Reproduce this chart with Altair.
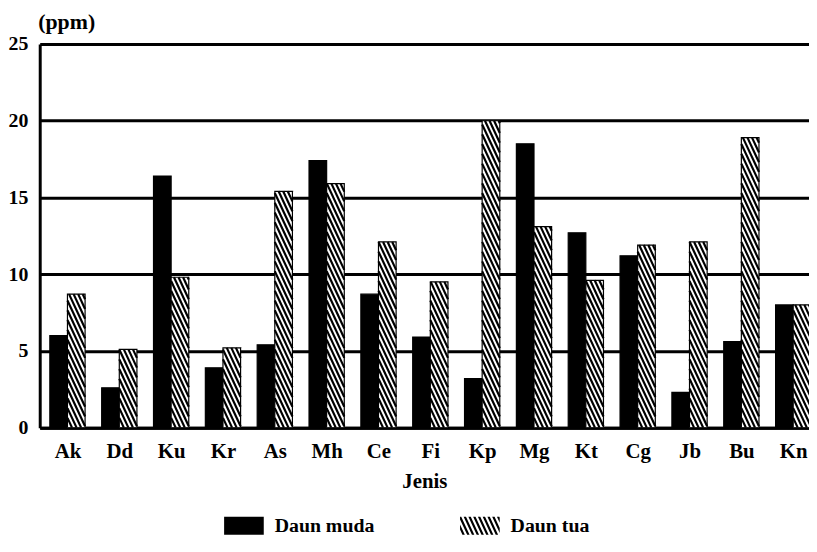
import math
import altair as alt
import pandas as pd

# ---- data ----
categories = ["Ak", "Dd", "Ku", "Kr", "As", "Mh", "Ce", "Fi", "Kp", "Mg", "Kt", "Cg", "Jb", "Bu", "Kn"]
daun_muda = [6.0, 2.6, 16.4, 3.9, 5.4, 17.4, 8.7, 5.9, 3.2, 18.5, 12.7, 11.2, 2.3, 5.6, 8.0]
daun_tua = [8.7, 5.1, 9.8, 5.2, 15.4, 15.9, 12.1, 9.5, 20.0, 13.1, 9.6, 11.9, 12.1, 18.9, 8.0]
series_names = ["Daun muda", "Daun tua"]
y_ticks = [0, 5, 10, 15, 20, 25]

rows = []
for i, c in enumerate(categories):
    rows.append({"idx": i, "jenis": c, "seri": series_names[0], "nilai": daun_muda[i]})
    rows.append({"idx": i, "jenis": c, "seri": series_names[1], "nilai": daun_tua[i]})
df = pd.DataFrame(rows)

# ---- styling / geometry ----
W, H = 776, 387
N = len(categories)
X_DOMAIN = [-0.035, 14.805]     # the original figure is cut at its right edge
BW = 0.34                       # bar width in category units
px_x, px_y = W / (X_DOMAIN[1] - X_DOMAIN[0]), H / 25.0
ANG = math.radians(65)
S = BW * px_x * math.tan(ANG) / px_y    # vertical drop of a hatch line across a bar (data units)
STEP = 4.6 * math.tan(ANG) / px_y       # vertical spacing of hatch lines (data units)

FONT = "Liberation Serif"

label_expr = "[" + ",".join("'%s'" % c for c in categories) + "][floor(datum.value)]"
x_scale = alt.Scale(domain=X_DOMAIN, nice=False, zero=False)
y_scale = alt.Scale(domain=[0, 25], nice=False)

x_axis = alt.Axis(values=[i + 0.5 for i in range(N)], labelExpr=label_expr, ticks=False, grid=False,
                  domainColor="black", domainWidth=3, labelFont=FONT, labelFontWeight="bold",
                  labelFontSize=21, labelColor="black", labelPadding=13, title="Jenis",
                  titleFont=FONT, titleFontWeight="bold", titleFontSize=21, titleColor="black",
                  titlePadding=9)
y_axis = alt.Axis(values=y_ticks, ticks=False, grid=True, gridColor="black", gridWidth=3,
                  gridOpacity=1, domainColor="black", domainWidth=3, labelFont=FONT,
                  labelFontWeight="bold", labelFontSize=20, labelColor="black", labelPadding=12,
                  title="(ppm)", titleAngle=0, titleAlign="left", titleBaseline="top",
                  titleX=-2, titleY=-33, titleFont=FONT, titleFontWeight="bold",
                  titleFontSize=22, titleColor="black")

base = alt.Chart(df).transform_calculate(
    x0="datum.idx + 0.5 + (datum.seri == '%s' ? -%f : 0)" % (series_names[0], BW),
    x1="datum.x0 + %f" % BW,
    zero="0",
    warna="datum.seri == '%s' ? 'black' : 'white'" % series_names[0],
)

bars = base.mark_bar(stroke="black", strokeWidth=1.2, clip=True).encode(
    x=alt.X("x0:Q", scale=x_scale, axis=x_axis),
    x2="x1:Q",
    y=alt.Y("nilai:Q", scale=y_scale, axis=y_axis),
    y2="zero:Q",
    fill=alt.Fill("warna:N", scale=None),
)

hatch = alt.Chart(df).transform_filter(
    "datum.seri == '%s'" % series_names[1]
).transform_calculate(
    k="sequence(1, ceil((datum.nilai + %f) / %f))" % (S, STEP)
).transform_flatten(["k"]).transform_calculate(
    c="datum.k * %f" % STEP,
    xl="datum.idx + 0.5",
).transform_calculate(
    xs="datum.xl + max(0, (datum.c - datum.nilai) / %f) * %f" % (S, BW),
    ys="min(datum.c, datum.nilai)",
    xe="datum.xl + min(1, datum.c / %f) * %f" % (S, BW),
    ye="max(datum.c - %f, 0)" % S,
).mark_rule(color="black", strokeWidth=2.2, strokeCap="butt", clip=True).encode(
    x=alt.X("xs:Q", scale=x_scale, axis=x_axis),
    x2="xe:Q",
    y=alt.Y("ys:Q", scale=y_scale, axis=y_axis),
    y2="ye:Q",
)

# ---- legend symbols as custom paths (unit = half of a 20px symbol box) ----
def clip_x(poly, lo, hi):
    def clip(poly, inside, inter):
        out = []
        for j in range(len(poly)):
            a, b = poly[j - 1], poly[j]
            if inside(b):
                if not inside(a):
                    out.append(inter(a, b))
                out.append(b)
            elif inside(a):
                out.append(inter(a, b))
        return out
    def ix(xv):
        return lambda a, b: (xv, a[1] + (b[1] - a[1]) * (xv - a[0]) / (b[0] - a[0]))
    poly = clip(poly, lambda p: p[0] >= lo, ix(lo))
    if poly:
        poly = clip(poly, lambda p: p[0] <= hi, ix(hi))
    return poly

HX, HY = 2.0, 0.9          # 40 x 18 px swatches
d = 2 * HY / math.tan(ANG)
sw, period = 0.24, 0.48
parts = []
a = -HX - d - sw
while a < HX:
    poly = [(a, -HY), (a + sw, -HY), (a + sw + d, HY), (a + d, HY)]
    poly = clip_x(poly, -HX, HX)
    if len(poly) >= 3:
        parts.append("M" + "L".join("%.3f,%.3f" % p for p in poly) + "Z")
    a += period
hatch_path = "".join(parts)
solid_path = "M-%.2f,-%.2fH%.2fV%.2fH-%.2fZ" % (HX, HY, HX, HY, HX)

legend_df = pd.DataFrame({"seri": series_names})
legend_layer = alt.Chart(legend_df).transform_calculate(zx="0.5", zy="-10").mark_point(
    filled=True, color="black", strokeWidth=0, clip=True
).encode(
    x=alt.X("zx:Q", scale=x_scale, axis=x_axis),
    y=alt.Y("zy:Q", scale=y_scale, axis=y_axis),
    shape=alt.Shape("seri:N", scale=alt.Scale(domain=series_names, range=[solid_path, hatch_path]),
                    legend=alt.Legend(title=None, orient="none", legendX=196, legendY=476,
                                      direction="horizontal", symbolSize=400,
                                      symbolFillColor="black", symbolStrokeWidth=0,
                                      symbolOpacity=1,
                                      labelFont=FONT, labelFontWeight="bold", labelFontSize=20,
                                      labelColor="black", labelOffset=21, columnPadding=86)),
)

chart = alt.layer(bars, hatch, legend_layer).properties(
    width=W, height=H, padding=0
).configure_view(strokeWidth=0).configure(background="white")

chart.save("out.html", embed_options={"renderer": "svg", "actions": False})
